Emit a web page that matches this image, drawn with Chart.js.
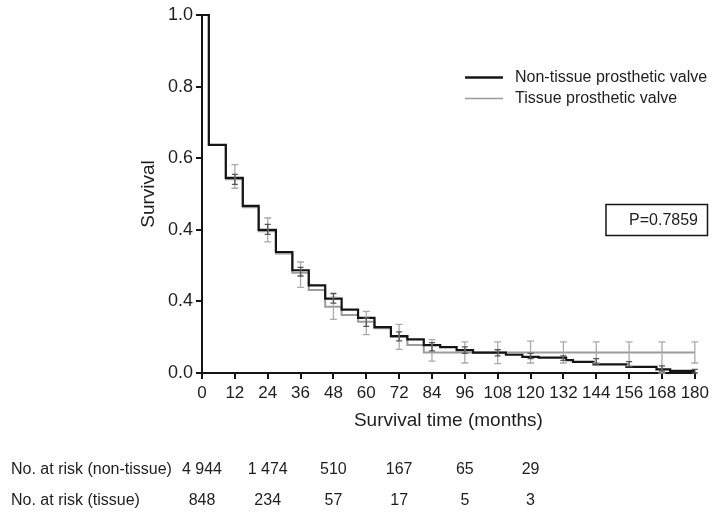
<!DOCTYPE html>
<html>
<head>
<meta charset="utf-8">
<script src="https://cdn.jsdelivr.net/npm/chart.js@4.4.1/dist/chart.umd.min.js"></script>
<style>
html,body{margin:0;padding:0;background:#fff;}
#wrap{width:713px;height:512px;position:relative;}
</style>
</head>
<body>
<div id="wrap"><canvas id="c" width="713" height="512"></canvas></div>
<script>
// ---- data ----
const seriesNames = ["Non-tissue prosthetic valve", "Tissue prosthetic valve"];

const nonTissueTimes  = [0, 2.5, 8.7, 14.9, 20.7, 27, 33, 39, 45, 51, 57, 63, 69, 75, 81, 87, 93, 99, 111, 117, 123, 133, 135.5, 143, 155, 166, 171, 180];
const nonTissueSurv   = [1.0, 0.637, 0.545, 0.467, 0.400, 0.338, 0.287, 0.245, 0.208, 0.177, 0.154, 0.128, 0.103, 0.094, 0.078, 0.072, 0.064, 0.057, 0.051, 0.045, 0.043, 0.036, 0.031, 0.024, 0.017, 0.010, 0.006, 0.006];

const tissueTimes     = [0, 2.5, 8.7, 14.9, 20.7, 27, 33, 39, 45, 51, 57, 63, 69, 75, 81, 180];
const tissueSurv      = [1.0, 0.637, 0.541, 0.463, 0.396, 0.334, 0.280, 0.232, 0.185, 0.162, 0.143, 0.125, 0.101, 0.078, 0.057, 0.057];

const errorBarTimes   = [12, 24, 36, 48, 60, 72, 84, 96, 108, 120, 132, 144, 156, 168, 180];
const tissueLower     = [0.516, 0.366, 0.239, 0.150, 0.107, 0.066, 0.033, 0.028, 0.026, 0.028, 0.028, 0.028, 0.020, 0.000, 0.028];
const tissueUpper     = [0.582, 0.433, 0.310, 0.212, 0.172, 0.136, 0.093, 0.087, 0.087, 0.089, 0.087, 0.087, 0.087, 0.087, 0.087];
const nonTissueLower  = [0.527, 0.387, 0.271, 0.195, 0.130, 0.090, 0.062, 0.055, 0.048, 0.040, 0.035, 0.025, 0.018, 0.005, 0.000];
const nonTissueUpper  = [0.555, 0.415, 0.295, 0.222, 0.153, 0.115, 0.085, 0.073, 0.065, 0.055, 0.048, 0.040, 0.032, 0.020, 0.010];

const yTickLabels     = ["0.0", "0.4", "0.4", "0.6", "0.8", "1.0"];
const xTickStep       = 12;

const riskTimes       = [0, 24, 48, 72, 96, 120];
const riskNonTissue   = ["4 944", "1 474", "510", "167", "65", "29"];
const riskTissue      = ["848", "234", "57", "17", "5", "3"];
const riskRowLabels   = ["No. at risk (non-tissue)", "No. at risk (tissue)"];

const pValueText      = "P=0.7859";

// ---- chart ----
const FONT = "'Liberation Sans', Arial, Helvetica, sans-serif";
const TXT = "#1e1e1e";
const BLACK = "#151515";
const GREY = "#9c9c9c";

const toPts = (t, s) => t.map((v, i) => ({x: v, y: s[i]}));

const extras = {
  id: "extras",
  afterDatasetsDraw(chart) {
    const ctx = chart.ctx;
    const xs = chart.scales.x, ys = chart.scales.y;
    const bar = (lo, hi, color, cap, lw) => {
      ctx.save();
      ctx.strokeStyle = color;
      ctx.lineWidth = lw;
      errorBarTimes.forEach((t, i) => {
        const x = xs.getPixelForValue(t);
        const y1 = ys.getPixelForValue(lo[i]);
        const y2 = ys.getPixelForValue(hi[i]);
        ctx.beginPath();
        ctx.moveTo(x, y1); ctx.lineTo(x, y2);
        ctx.moveTo(x - cap, y1); ctx.lineTo(x + cap, y1);
        ctx.moveTo(x - cap, y2); ctx.lineTo(x + cap, y2);
        ctx.stroke();
      });
      ctx.restore();
    };
    bar(tissueLower, tissueUpper, "#aaaaaa", 3.5, 1.3);
    bar(nonTissueLower, nonTissueUpper, "#555555", 3, 1.3);
  },
  afterDraw(chart) {
    const ctx = chart.ctx;
    const xs = chart.scales.x;
    ctx.save();
    // legend
    ctx.lineCap = "butt";
    ctx.strokeStyle = BLACK; ctx.lineWidth = 2.5;
    ctx.beginPath(); ctx.moveTo(465, 77.5); ctx.lineTo(503, 77.5); ctx.stroke();
    ctx.strokeStyle = GREY; ctx.lineWidth = 1.5;
    ctx.beginPath(); ctx.moveTo(465, 98.5); ctx.lineTo(503, 98.5); ctx.stroke();
    ctx.fillStyle = TXT;
    ctx.font = "16px " + FONT;
    ctx.textAlign = "left"; ctx.textBaseline = "middle";
    ctx.fillText(seriesNames[0], 515, 77.5);
    ctx.fillText(seriesNames[1], 515, 98.5);
    // p-value box
    ctx.strokeStyle = BLACK; ctx.lineWidth = 1.5;
    ctx.strokeRect(606, 204.5, 101.5, 31);
    ctx.textAlign = "right";
    ctx.fillText(pValueText, 698, 221);
    // number at risk table
    ctx.font = "16px " + FONT;
    ctx.textAlign = "left";
    ctx.fillText(riskRowLabels[0], 11, 470);
    ctx.fillText(riskRowLabels[1], 11, 501);
    ctx.textAlign = "center";
    riskTimes.forEach((t, i) => {
      const x = xs.getPixelForValue(t);
      ctx.fillText(riskNonTissue[i], x, 470);
      ctx.fillText(riskTissue[i], x, 501);
    });
    ctx.restore();
  }
};

new Chart(document.getElementById("c"), {
  type: "line",
  data: {
    datasets: [
      {
        label: seriesNames[0],
        data: toPts(nonTissueTimes, nonTissueSurv),
        borderColor: BLACK,
        borderWidth: 2.2,
        stepped: true,
        pointRadius: 0,
        fill: false,
        clip: false,
        order: 1
      },
      {
        label: seriesNames[1],
        data: toPts(tissueTimes, tissueSurv),
        borderColor: GREY,
        borderWidth: 2,
        stepped: true,
        pointRadius: 0,
        fill: false,
        clip: false,
        order: 2
      }
    ]
  },
  options: {
    responsive: false,
    animation: false,
    devicePixelRatio: 1,
    layout: { padding: { top: 15, right: 16, left: 0, bottom: 0 } },
    plugins: { legend: { display: false }, tooltip: { enabled: false } },
    scales: {
      x: {
        type: "linear",
        min: 0, max: 180,
        ticks: {
          stepSize: xTickStep, autoSkip: false, maxRotation: 0,
          color: TXT, padding: 4,
          font: { family: FONT, size: 17 }
        },
        grid: { display: true, drawOnChartArea: false, drawTicks: true, tickLength: 6, color: BLACK, lineWidth: 2 },
        border: { display: true, color: BLACK, width: 2 },
        title: {
          display: true, text: "Survival time (months)", color: TXT,
          font: { family: FONT, size: 19 },
          padding: { top: 0, bottom: 80 }
        },
        afterFit: s => { s.height = 139; }
      },
      y: {
        min: 0, max: 1,
        ticks: {
          stepSize: 0.2, color: TXT, padding: 3,
          font: { family: FONT, size: 18 },
          callback: (v, i) => yTickLabels[i]
        },
        grid: { display: true, drawOnChartArea: false, drawTicks: true, tickLength: 6, color: BLACK, lineWidth: 2 },
        border: { display: true, color: BLACK, width: 2 },
        title: {
          display: true, text: "Survival", color: TXT,
          font: { family: FONT, size: 19 },
          padding: { top: 137, bottom: 0 }
        },
        afterFit: s => { s.width = 202; }
      }
    }
  },
  plugins: [extras]
});
</script>
</body>
</html>
